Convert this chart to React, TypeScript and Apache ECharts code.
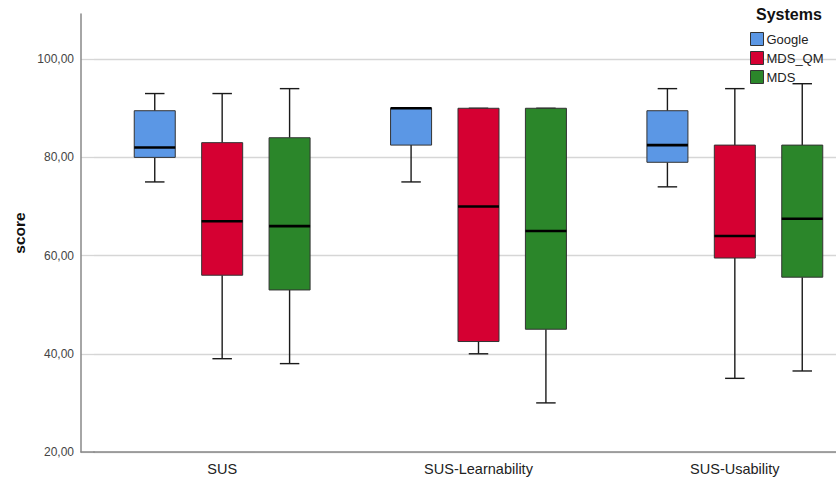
import React, { useEffect, useRef } from "react";
import * as echarts from "echarts";

// categories and series: [min, Q1, median, Q3, max]
const categories = ["SUS", "SUS-Learnability", "SUS-Usability"];
const seriesNames = ["Google", "MDS_QM", "MDS"];
const googleStats = [
  [75, 80, 82, 89.5, 93],
  [75, 82.5, 90, 90, 90],
  [74, 79, 82.5, 89.5, 94],
];
const mdsQmStats = [
  [39, 56, 67, 83, 93],
  [40, 42.5, 70, 90, 90],
  [35, 59.5, 64, 82.5, 94],
];
const mdsStats = [
  [38, 53, 66, 84, 94],
  [30, 45, 65, 90, 90],
  [36.5, 55.6, 67.5, 82.5, 95],
];
const yTicks = [20, 40, 60, 80, 100];
const colors = ["#5b97e5", "#d50032", "#2b862a"];

const FONT = "Arial, 'Liberation Sans', sans-serif";

function makeRender(k: number) {
  return (params: any, api: any) => {
    const cat = api.value(0);
    const band = api.size([1, 0])[0];
    const off = (k - 1) * band * 0.263;
    const x = api.coord([cat, 0])[0] + off;
    const yv = (i: number) => api.coord([cat, api.value(i)])[1];
    const yMin = yv(1), yQ1 = yv(2), yMed = yv(3), yQ3 = yv(4), yMax = yv(5);
    const hw = band * 0.08;
    const cw = band * 0.038;
    const ls = { stroke: "#1a1a1a", lineWidth: 1.4, fill: null };
    return {
      type: "group",
      children: [
        { type: "line", shape: { x1: x, y1: yMax, x2: x, y2: yQ3 }, style: ls },
        { type: "line", shape: { x1: x, y1: yQ1, x2: x, y2: yMin }, style: ls },
        { type: "line", shape: { x1: x - cw, y1: yMax, x2: x + cw, y2: yMax }, style: ls },
        { type: "line", shape: { x1: x - cw, y1: yMin, x2: x + cw, y2: yMin }, style: ls },
        {
          type: "rect",
          shape: { x: x - hw, y: yQ3, width: hw * 2, height: yQ1 - yQ3 },
          style: { fill: colors[k], stroke: "#333", lineWidth: 1 },
        },
        {
          type: "line",
          shape: { x1: x - hw, y1: yMed, x2: x + hw, y2: yMed },
          style: { stroke: "#000", lineWidth: 2.6 },
        },
      ],
    };
  };
}

export default function App() {
  const ref = useRef<HTMLDivElement>(null);
  useEffect(() => {
    if (!ref.current) return;
    const chart = echarts.init(ref.current, null, { renderer: "svg" });
    const allStats = [googleStats, mdsQmStats, mdsStats];
    const fmt = (v: number) => (v > 100.5 ? "" : v.toFixed(2).replace(".", ","));
    chart.setOption({
      animation: false,
      backgroundColor: "#ffffff",
      textStyle: { fontFamily: FONT },
      title: {
        text: "Systems",
        left: 756,
        top: 6,
        padding: 0,
        textStyle: { fontFamily: FONT, fontSize: 16, fontWeight: "bold", color: "#111" },
      },
      legend: {
        data: seriesNames,
        orient: "vertical",
        left: 750,
        top: 32,
        padding: 0,
        itemWidth: 13,
        itemHeight: 13,
        itemGap: 5,
        icon: "rect",
        itemStyle: { borderColor: "#333", borderWidth: 1 },
        textStyle: { fontFamily: FONT, fontSize: 13, color: "#222", padding: [0, 0, 0, -2] },
      },
      grid: [
        { left: 94, width: 769, top: 14, bottom: 29, outerBoundsMode: "none", containLabel: false },
        { left: 81, width: 13, top: 14, bottom: 29, outerBoundsMode: "none", containLabel: false },
      ],
      xAxis: [
        {
          type: "category",
          gridIndex: 0,
          data: categories,
          axisLine: { show: true, lineStyle: { color: "#888", width: 1.5 } },
          axisTick: { show: false },
          axisLabel: { fontFamily: FONT, fontSize: 14.5, color: "#222", margin: 9 },
          splitLine: { show: false },
        },
        {
          type: "value",
          gridIndex: 1,
          min: 0,
          max: 1,
          axisLine: { show: true, onZero: false, lineStyle: { color: "#888", width: 1.5 } },
          axisTick: { show: false },
          axisLabel: { show: false },
          splitLine: { show: false },
        },
      ],
      yAxis: [
        {
          type: "value",
          gridIndex: 0,
          min: 20,
          max: 109.2,
          interval: 20,
          axisLine: { show: false },
          axisTick: { show: false },
          axisLabel: { show: false },
          splitLine: { show: true, showMaxLine: false, lineStyle: { color: "#d6d6d6", width: 1.3 } },
        },
        {
          type: "value",
          gridIndex: 1,
          min: 20,
          max: 109.2,
          interval: 20,
          name: "score",
          nameLocation: "middle",
          nameGap: 54,
          nameTextStyle: { fontFamily: FONT, fontSize: 15.5, fontWeight: "bold", color: "#111" },
          axisLine: { show: true, lineStyle: { color: "#888", width: 1.5 } },
          axisTick: { show: false },
          axisLabel: {
            fontFamily: FONT,
            fontSize: 12,
            color: "#444",
            margin: 7,
            formatter: fmt,
            customValues: yTicks,
          },
          splitLine: { show: true, showMaxLine: false, lineStyle: { color: "#d6d6d6", width: 1.3 } },
        },
      ],
      series: allStats.map((stats, k) => ({
        type: "custom",
        name: seriesNames[k],
        xAxisIndex: 0,
        yAxisIndex: 0,
        itemStyle: { color: colors[k] },
        encode: { x: 0, y: [1, 2, 3, 4, 5] },
        renderItem: makeRender(k),
        data: stats.map((s, i) => [i, ...s]),
      })),
    });
    return () => chart.dispose();
  }, []);
  return (
    <div
      ref={ref}
      style={{ position: "fixed", left: 0, top: 0, width: 836, height: 481 }}
    />
  );
}
